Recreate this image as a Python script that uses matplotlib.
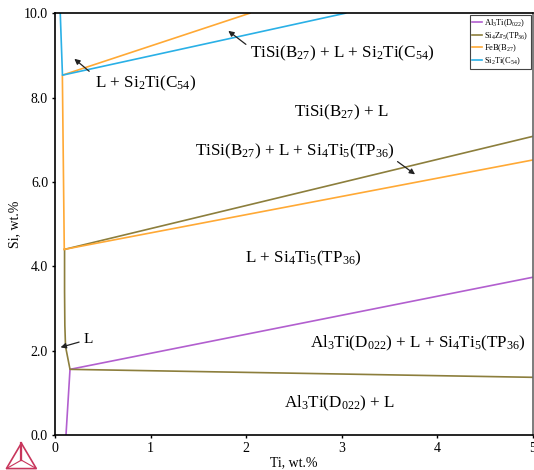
import numpy as np
import matplotlib
matplotlib.use('Agg')
import matplotlib.pyplot as plt
from matplotlib.patches import Polygon

plt.rcParams['font.family'] = 'Liberation Serif'
plt.rcParams['mathtext.fontset'] = 'custom'
plt.rcParams['mathtext.rm'] = 'Liberation Serif'
plt.rcParams['mathtext.it'] = 'Liberation Serif'

# phase boundary lines (Ti wt.%, Si wt.%)
al3ti_x = [[0.115, 0.157, 5.0]]
al3ti_y = [[0.0, 1.556, 3.74]]
si4zr5_x = [[0.10, 0.10, 0.103, 0.11, 0.157, 5.0], [0.10, 5.0]]
si4zr5_y = [[4.40, 3.4, 2.6, 2.1, 1.556, 1.367], [4.40, 7.08]]
feb_x = [[0.097, 0.077, 2.04], [0.097, 5.0]]
feb_y = [[4.40, 8.53, 10.0], [4.40, 6.52]]
si2ti_x = [[0.055, 0.078, 3.04]]
si2ti_y = [[10.0, 8.53, 10.0]]

colors = {'Al3Ti': '#b25fcf', 'Si4Zr5': '#8c7e3c', 'FeB': '#ffa935', 'Si2Ti': '#2ab0e6'}
labels = {'Al3Ti': r'Al$_3$Ti(D$_{022}$)', 'Si4Zr5': r'Si$_4$Zr$_5$(TP$_{36}$)',
          'FeB': r'FeB(B$_{27}$)', 'Si2Ti': r'Si$_2$Ti(C$_{54}$)'}

# region labels: text, position
regions = [
    (r'TiSi(B$_{27}$) + L + Si$_2$Ti(C$_{54}$)', 3.0, 9.05),
    (r'L + Si$_2$Ti(C$_{54}$)', 0.95, 8.34),
    (r'TiSi(B$_{27}$) + L', 2.99, 7.65),
    (r'TiSi(B$_{27}$) + L + Si$_4$Ti$_5$(TP$_{36}$)', 2.51, 6.73),
    (r'L + Si$_4$Ti$_5$(TP$_{36}$)', 2.6, 4.19),
    (r'Al$_3$Ti(D$_{022}$) + L + Si$_4$Ti$_5$(TP$_{36}$)', 3.8, 2.18),
    (r'Al$_3$Ti(D$_{022}$) + L', 2.98, 0.76),
]
# arrows: head, tail
arrows = [
    ((1.79, 9.62), (2.02, 9.22)),
    ((0.18, 8.96), (0.38, 8.58)),
    ((3.79, 6.14), (3.56, 6.52)),
    ((0.03, 2.06), (0.28, 2.22)),
]

fig = plt.figure(figsize=(5.34, 4.70), dpi=100)
ax = fig.add_axes([0.103, 0.0745, 0.895, 0.8975])

data = [('Al3Ti', al3ti_x, al3ti_y), ('Si4Zr5', si4zr5_x, si4zr5_y),
        ('FeB', feb_x, feb_y), ('Si2Ti', si2ti_x, si2ti_y)]
for key, xs, ys in data:
    for i in range(len(xs)):
        ax.plot(xs[i], ys[i], color=colors[key], lw=1.2,
                label=labels[key] if i == 0 else None)

for txt, x, y in regions:
    ax.text(x, y, txt, ha='center', va='center', fontsize=12.3)
ax.text(0.35, 2.27, 'L', ha='center', va='center', fontsize=11)

for head, tail in arrows:
    ax.annotate('', xy=head, xytext=tail,
                arrowprops=dict(arrowstyle='-|>', color='#222222', lw=0.9,
                                mutation_scale=8))

ax.set_xlim(0, 5)
ax.set_ylim(0, 10)
ax.set_xticks([0, 1, 2, 3, 4, 5])
ax.set_xticklabels(['0', '1', '2', '3', '4', '5'])
ax.set_yticks([0, 2, 4, 6, 8, 10])
ax.set_yticklabels(['0.0', '2.0', '4.0', '6.0', '8.0', '10.0'])
ax.tick_params(direction='out', length=2, width=1, labelsize=10, pad=3)
ax.set_xlabel('Ti, wt.%', fontsize=10, labelpad=1)
ax.set_ylabel('Si, wt.%', fontsize=10, labelpad=2)
for s in ax.spines.values():
    s.set_linewidth(1.2)
ax.spines['right'].set_color('#666666')

leg = ax.legend(loc='upper right', fontsize=6, handlelength=1.2,
                handletextpad=0.3, borderpad=0.25, labelspacing=0.12,
                fancybox=False, framealpha=1, edgecolor='#444444',
                borderaxespad=0.25)
leg.get_frame().set_linewidth(0.8)

# Thermo-Calc logo
c = '#c8365c'
tri = [(0.012, 0.003), (0.068, 0.003), (0.040, 0.057)]
fig.patches.append(Polygon(tri, closed=True, fill=False, ec=c, lw=1.2,
                           transform=fig.transFigure))
cx, cy = 0.040, 0.021
for px, py in tri:
    fig.add_artist(plt.Line2D([px, cx], [py, cy], color=c, lw=0.8,
                              transform=fig.transFigure))
fig.add_artist(plt.Line2D([0.040, 0.040], [0.021, 0.057], color=c, lw=1.6,
                          transform=fig.transFigure))

fig.savefig('out.png', dpi=100)
